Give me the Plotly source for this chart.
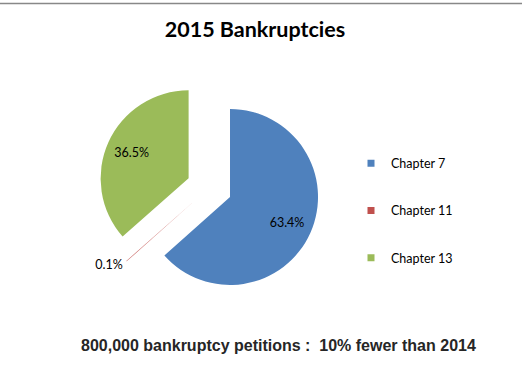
import plotly.graph_objects as go

categories = ["Chapter 7", "Chapter 11", "Chapter 13"]
percent_values = [63.4, 0.1, 36.5]
colors = ["#4F81BD", "#C0504D", "#9BBB59"]
title_text = "2015 Bankruptcies"
footer_text = "800,000 bankruptcy petitions :\u00a0\u00a010% fewer than 2014"

W, H = 522, 366
pie_domain = dict(x=[0.1889, 0.6130], y=[0.1847, 0.7896])
pulls = [0.258, 0.258, 0.258]

fig = go.Figure()
# slices
fig.add_trace(go.Pie(
    labels=categories,
    values=percent_values,
    marker=dict(colors=colors, line=dict(width=0)),
    sort=False, direction="clockwise", rotation=0,
    pull=pulls,
    textinfo="none",
    domain=pie_domain,
    showlegend=False,
    hoverinfo="label+percent",
))
# data labels (same slices, transparent ring so labels sit at ~70% radius)
fig.add_trace(go.Pie(
    labels=categories,
    values=percent_values,
    marker=dict(colors=["rgba(0,0,0,0)"] * 3, line=dict(width=0)),
    sort=False, direction="clockwise", rotation=0,
    pull=pulls,
    hole=0.42,
    texttemplate="%{percent:.1%}",
    textposition=["inside", "outside", "inside"],
    insidetextorientation="horizontal",
    textfont=dict(family="Lato", size=12.5, color="#000000"),
    domain=pie_domain,
    showlegend=False,
    hoverinfo="skip",
))

for name, col in zip(categories, colors):
    fig.add_trace(go.Scatter(
        x=[None], y=[None], mode="markers", name=name,
        legendgroup=name,
        marker=dict(symbol="square", size=7, color=col),
        showlegend=True,
    ))

fig.update_layout(
    width=W, height=H,
    margin=dict(l=0, r=0, t=0, b=0),
    paper_bgcolor="white", plot_bgcolor="white",
    xaxis=dict(visible=False), yaxis=dict(visible=False),
    title=dict(text=title_text, x=0.4885, xanchor="center", y=1 - 29 / H, yanchor="middle",
               font=dict(family="Lato", size=21.5, weight=700, color="#000000")),
    legend=dict(x=(391 - 40) / W, xanchor="left", y=1 - 148.5 / H, yanchor="top",
                font=dict(family="Lato", size=12.5, color="#000000"),
                tracegroupgap=28, bgcolor="rgba(0,0,0,0)", borderwidth=0),
    annotations=[dict(text=footer_text, x=0.5335, y=1 - 345 / H, xref="paper", yref="paper",
                      xanchor="center", yanchor="middle", showarrow=False,
                      font=dict(family="Liberation Sans", size=16, weight=700, color="#262626"))],
    shapes=[dict(type="line", xref="paper", yref="paper", x0=0, x1=1, y0=1 - 3.5 / H, y1=1 - 3.5 / H,
                 line=dict(color="#888888", width=1.5))],
)

fig.write_html("out.html")
